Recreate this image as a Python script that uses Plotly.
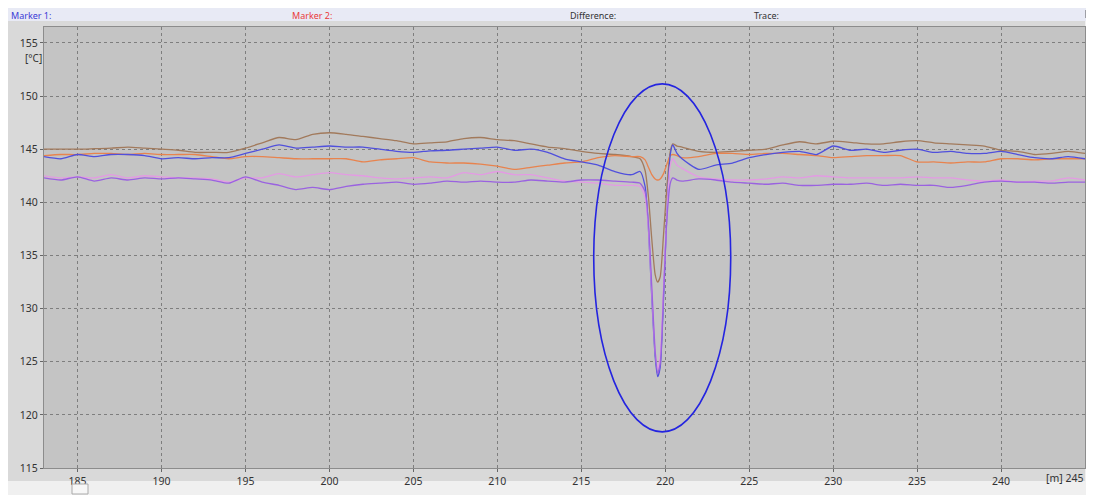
import plotly.graph_objects as go

# ---- data (position in m, temperature in °C) ----
x_pos = [183, 184, 185, 186, 187, 188, 189, 190, 191, 192, 193, 194, 195, 196, 197, 198, 199, 200,
         201, 202, 203, 204, 205, 206, 207, 208, 209, 210, 211, 212, 213, 214, 215, 216, 217, 218,
         218.5, 218.8, 219.0, 219.2, 219.4, 219.55, 219.7, 219.9, 220.1, 220.3, 220.45, 220.7,
         221, 222, 223, 224, 225, 226, 227, 228, 229, 230, 231, 232, 233, 234, 235, 236, 237, 238,
         239, 240, 241, 242, 243, 244, 245]

brown = [145.0, 145.0, 145.0, 145.05, 145.1, 145.2, 145.1, 145.0, 144.9, 144.7, 144.7, 144.7, 145.1, 145.6,
         146.1, 145.9, 146.4, 146.55, 146.4, 146.2, 146.0, 145.8, 145.5, 145.6, 145.7, 146.0, 146.1, 145.9,
         145.8, 145.5, 145.2, 145.05, 144.8, 144.6, 144.5, 144.3,
         144.1, 143.0, 140.5, 136.5, 133.2, 132.5, 133.0, 137.0, 141.5, 144.8, 145.5, 145.3,
         145.2, 144.8, 144.7, 144.8, 144.9, 145.0, 145.4, 145.7, 145.5, 145.75, 145.65, 145.5, 145.5, 145.7,
         145.8, 145.6, 145.5, 145.4, 145.3, 144.9, 144.8, 144.5, 144.6, 144.8, 144.6]

blue = [144.3, 144.1, 144.5, 144.3, 144.5, 144.5, 144.4, 144.1, 144.2, 144.1, 144.2, 144.2, 144.6, 145.0,
        145.4, 145.1, 145.2, 145.3, 145.2, 145.2, 145.0, 144.8, 144.7, 144.85, 144.9, 145.0, 145.1, 145.2,
        144.9, 145.0, 144.7, 144.1, 143.8, 143.5, 142.9, 142.6,
        142.9, 141.5, 137.5, 131.0, 125.5, 123.6, 124.5, 131.0, 139.0, 144.5, 145.4, 144.6,
        144.1, 143.1, 143.5, 143.7, 144.2, 144.5, 144.7, 144.8, 144.5, 145.3, 144.9, 145.0, 144.7, 144.9,
        145.0, 144.7, 144.8, 144.6, 144.6, 144.8, 144.5, 144.2, 144.1, 144.3, 144.1]

orange = [144.4, 144.5, 144.5, 144.6, 144.6, 144.5, 144.6, 144.5, 144.5, 144.5, 144.3, 144.1, 144.3, 144.3,
          144.2, 144.1, 144.1, 144.1, 144.1, 143.8, 144.0, 144.1, 144.2, 143.8, 143.7, 143.7, 143.6, 143.4,
          143.1, 143.3, 143.5, 143.7, 143.8, 144.2, 144.4, 144.3,
          144.3, 144.0, 143.3, 142.6, 142.2, 142.1, 142.2, 142.7, 143.6, 144.4, 144.5, 144.4,
          144.2, 144.3, 144.6, 144.6, 144.5, 144.6, 144.6, 144.5, 144.4, 144.2, 144.3, 144.4, 144.4, 144.4,
          143.8, 143.8, 143.7, 143.8, 143.8, 144.1, 144.1, 144.0, 144.1, 144.1, 144.1]

pink = [142.5, 142.3, 142.4, 142.3, 142.6, 142.3, 142.5, 142.4, 142.3, 142.3, 142.2, 141.9, 142.3, 142.3,
        142.7, 142.4, 142.6, 142.8, 142.6, 142.5, 142.3, 142.2, 142.3, 142.4, 142.3, 142.8, 142.6, 142.9,
        142.6, 142.6, 142.3, 142.0, 141.9, 141.8, 141.6, 141.6,
        141.5, 140.5, 137.5, 131.5, 126.0, 124.3, 125.5, 132.0, 139.0, 143.5, 144.1, 143.5,
        143.2, 142.4, 142.2, 142.1, 142.1, 142.2, 142.4, 142.3, 142.5, 142.4, 142.3, 142.3, 142.3, 142.3,
        142.4, 142.3, 142.3, 142.1, 142.0, 142.1, 141.9, 142.0, 142.0, 142.3, 142.1]

purple = [142.3, 142.1, 142.4, 142.0, 142.3, 142.1, 142.3, 142.2, 142.3, 142.2, 142.1, 141.8, 142.4, 141.9,
          141.6, 141.2, 141.4, 141.2, 141.5, 141.7, 141.8, 141.9, 141.7, 141.8, 142.0, 141.9, 142.0, 141.9,
          141.9, 142.1, 142.0, 141.9, 142.1, 142.1, 142.0, 141.9,
          141.8, 141.0, 138.0, 132.0, 126.0, 123.9, 124.8, 131.5, 138.5, 141.8, 142.3, 142.1,
          142.0, 142.2, 142.1, 141.9, 141.8, 141.7, 141.8, 141.6, 141.6, 141.7, 141.7, 141.8, 141.6, 141.7,
          141.6, 141.6, 141.4, 141.6, 141.9, 142.0, 141.9, 141.9, 141.8, 141.9, 141.9]

x_ticks = [185, 190, 195, 200, 205, 210, 215, 220, 225, 230, 235, 240]
y_ticks = [115, 120, 125, 130, 135, 140, 145, 150, 155]
x_range = [183, 245]
y_range = [115, 156.5]

# highlight ellipse bounds (data units)
ell_x = [215.74, 223.9]
ell_y = [118.4, 151.15]

header_labels = ["Marker 1:", "Marker 2:", "Difference:", "Trace:"]

series = [
    ("brown", brown, "#a27a5c"),
    ("orange", orange, "#e8834e"),
    ("blue", blue, "#5050dc"),
    ("pink", pink, "#e49ae4"),
    ("purple", purple, "#9a62e0"),
]

fig = go.Figure()
for name, vals, col in series:
    fig.add_trace(go.Scatter(x=x_pos, y=vals, mode="lines", name=name,
                             line=dict(color=col, width=1.3, shape="spline", smoothing=0.6),
                             hoverinfo="skip"))

# page is 1094x495; the html body adds an 8px offset, so the figure is sized to fit
OFF = 8
PAGE_W, PAGE_H = 1094, 495
W, H = PAGE_W - OFF, PAGE_H - OFF
# plot area in page pixels: x 44..1085, y 27..468
PL, PR, PT, PB = 44, 1085, 27, 468
L, R, T, B = PL - OFF, (OFF + W) - PR, PT - OFF, (OFF + H) - PB
pw, ph = PR - PL, PB - PT


def px_x(px):
    return (px - PL) / pw


def px_y(py):
    return (PB - py) / ph


shapes = [
    # header band
    dict(type="rect", xref="paper", yref="paper", x0=px_x(0), x1=px_x(PAGE_W), y0=px_y(21), y1=px_y(0),
         fillcolor="#e8eaf5", line=dict(width=0), layer="below"),
    # bottom scroll band
    dict(type="rect", xref="paper", yref="paper", x0=px_x(0), x1=px_x(PAGE_W), y0=px_y(PAGE_H), y1=px_y(481),
         fillcolor="#f0f0f0", line=dict(width=0), layer="below"),
    # right strip
    dict(type="rect", xref="paper", yref="paper", x0=px_x(1085), x1=px_x(PAGE_W), y0=px_y(PAGE_H), y1=px_y(21),
         fillcolor="#f0f0f0", line=dict(width=0), layer="below"),
    # scrollbar thumb
    dict(type="rect", xref="paper", yref="paper", x0=px_x(72), x1=px_x(88), y0=px_y(494), y1=px_y(484),
         fillcolor="#f7f7f7", line=dict(width=1, color="#aaaaaa")),
    # small box on right edge
    dict(type="rect", xref="paper", yref="paper", x0=px_x(1088), x1=px_x(1094), y0=px_y(345), y1=px_y(336),
         fillcolor="#f8f8f8", line=dict(width=1, color="#aaaaaa")),
    # top-right icon
    dict(type="rect", xref="paper", yref="paper", x0=px_x(1086), x1=px_x(1093), y0=px_y(18), y1=px_y(10),
         fillcolor="#f4f4f4", line=dict(width=1, color="#555555")),
    # highlight ellipse
    dict(type="circle", xref="x", yref="y", x0=ell_x[0], x1=ell_x[1], y0=ell_y[0], y1=ell_y[1],
         line=dict(color="#2424e0", width=1.6), layer="above"),
]

hdr_pos = [9, 290, 568, 752]
hdr_col = ["#3b3bd6", "#e83a3a", "#333333", "#333333"]
annotations = []
for lab, p, c in zip(header_labels, hdr_pos, hdr_col):
    annotations.append(dict(text=lab, xref="paper", yref="paper", x=px_x(p), y=px_y(15.5),
                            xanchor="left", yanchor="middle", showarrow=False,
                            font=dict(size=9, color=c, family="Noto Sans")))
annotations.append(dict(text="[°C]", xref="paper", yref="paper", x=px_x(33), y=px_y(58),
                        xanchor="center", yanchor="middle", showarrow=False,
                        font=dict(size=10, color="#333333", family="Noto Sans")))
annotations.append(dict(text="[m] 245", xref="paper", yref="paper", x=px_x(1064), y=px_y(478),
                        xanchor="center", yanchor="middle", showarrow=False,
                        font=dict(size=10.5, color="#333333", family="Noto Sans")))

axis_common = dict(showgrid=True, gridcolor="#7e7e7e", gridwidth=1, griddash="dot",
                   ticks="outside", ticklen=3, tickcolor="#666666",
                   showline=True, linecolor="#8c8c8c", linewidth=1, mirror=True,
                   zeroline=False, tickfont=dict(size=10.5, color="#333333", family="Noto Sans"))

fig.update_layout(
    width=W, height=H,
    margin=dict(l=L, r=R, t=T, b=B, pad=0, autoexpand=False),
    paper_bgcolor="#d9d9d9",
    plot_bgcolor="#c4c4c4",
    showlegend=False,
    xaxis=dict(range=x_range, tickvals=x_ticks, automargin=False, **axis_common),
    yaxis=dict(range=y_range, tickvals=y_ticks, automargin=False, **axis_common),
    shapes=shapes,
    annotations=annotations,
)

fig.write_html("out.html")
